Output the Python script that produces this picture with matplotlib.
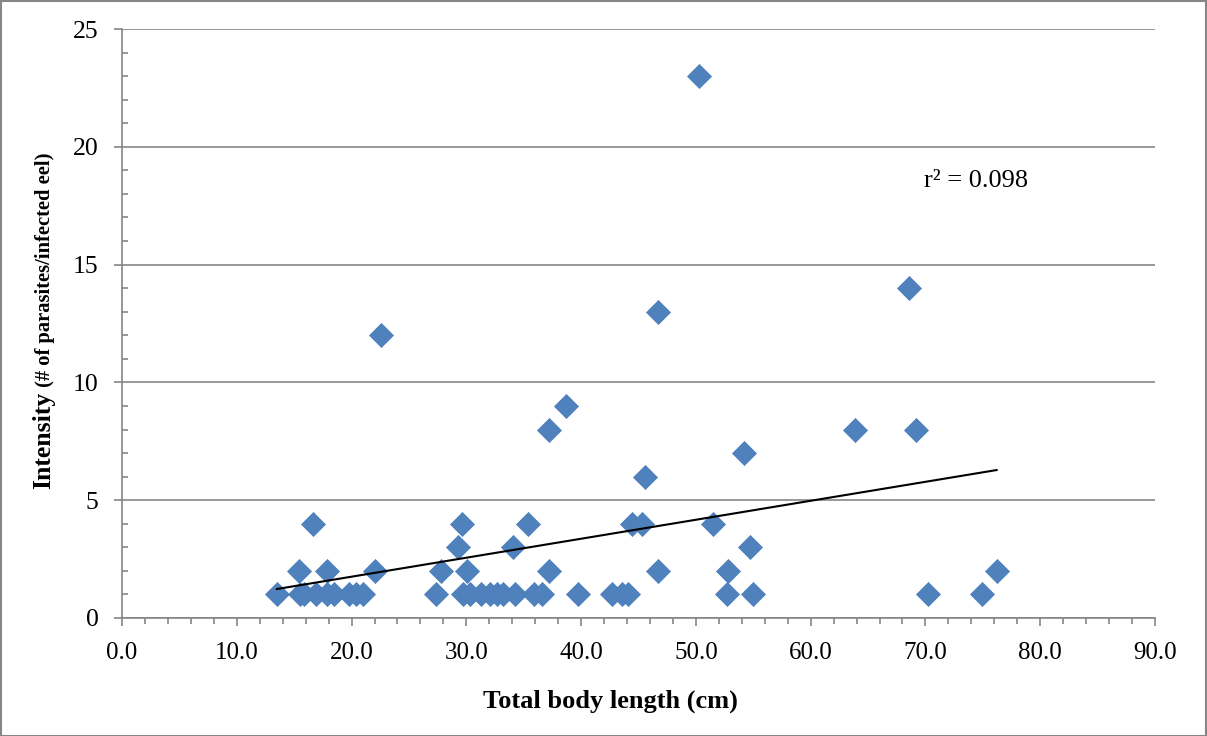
import matplotlib
matplotlib.use("Agg")
import matplotlib.pyplot as plt
import numpy as np
from matplotlib.ticker import MultipleLocator, FormatStrFormatter
from matplotlib.patches import Rectangle

# Data: (total body length cm, intensity)
x_int1 = [13.5, 15.5, 15.9, 16.9, 17.9, 18.5, 19.8, 20.4, 21.0, 27.4, 29.7, 30.3,
          31.3, 32.1, 32.7, 33.2, 34.2, 35.9, 36.6, 39.7, 42.7, 43.6, 44.1, 52.7,
          55.0, 70.2, 74.9]
x_int2 = [15.4, 17.9, 22.0, 27.8, 30.1, 37.2, 46.7, 52.8, 76.2]
x_int3 = [29.3, 34.1, 54.7]
x_int4 = [16.6, 29.6, 35.4, 44.4, 45.3, 51.5]
x_high = [45.6, 54.2, 37.2, 63.9, 69.2, 38.7, 22.6, 46.7, 68.6, 50.3]
y_high = [6, 7, 8, 8, 8, 9, 12, 13, 14, 23]

# Linear trend line (start / end)
trend_x = [13.5, 76.2]
trend_y = [1.23, 6.28]

x_vals = np.array(x_int1 + x_int2 + x_int3 + x_int4 + x_high, dtype=float)
y_vals = np.array([1] * len(x_int1) + [2] * len(x_int2) + [3] * len(x_int3)
                  + [4] * len(x_int4) + y_high, dtype=float)

r2_label = "r² = 0.098"
x_label = "Total body length (cm)"
y_label_main = "Intensity"
y_label_sub = " (# of parasites/infected eel)"

plt.rcParams['font.family'] = ['Liberation Serif', 'DejaVu Serif']

W, H = 1207, 736
fig = plt.figure(figsize=(W / 100, H / 100), dpi=100)
ax = fig.add_axes([122 / W, (H - 618) / H, (1155 - 122) / W, (618 - 29) / H])

grid_c = '#868686'
ax.set_xlim(0, 90)
ax.set_ylim(0, 25)
ax.yaxis.set_major_locator(MultipleLocator(5))
ax.yaxis.set_minor_locator(MultipleLocator(1))
ax.xaxis.set_major_locator(MultipleLocator(10))
ax.xaxis.set_minor_locator(MultipleLocator(2))
ax.xaxis.set_major_formatter(FormatStrFormatter('%.1f'))
ax.grid(axis='y', which='major', color=grid_c, linewidth=1.2, zorder=0)
ax.set_axisbelow(True)
for s in ['top', 'right']:
    ax.spines[s].set_visible(False)
for s in ['left', 'bottom']:
    ax.spines[s].set_color(grid_c)
    ax.spines[s].set_linewidth(1.2)
ax.tick_params(axis='y', which='major', length=6, width=1.2, color=grid_c,
               labelsize=18.5, pad=11, direction='out')
ax.tick_params(axis='y', which='minor', length=4, width=1.2, color=grid_c,
               direction='in')
ax.tick_params(axis='x', which='major', length=6, width=1.2, color=grid_c,
               labelsize=18, pad=11, direction='out')
ax.tick_params(axis='x', which='minor', length=4.5, width=1.2, color=grid_c,
               direction='out')

ax.scatter(x_vals, y_vals, marker='D', s=150, color='#4F81BD',
           edgecolor='#4A7EBB', linewidth=0.5, zorder=3, clip_on=False)

ax.plot(trend_x, trend_y, color='black', linewidth=1.5, zorder=4)

fig.text(976 / W, (H - 187) / H, r2_label, fontsize=19, ha='center',
         va='baseline')

fig.text(610 / W, (H - 708) / H, x_label, fontsize=19,
         fontweight='bold', ha='center', va='baseline')

# y label composed of two parts sharing one baseline
t1 = fig.text(50 / W, (H - 489) / H, y_label_main, fontsize=18.5, fontweight='bold',
              rotation=90, ha='left', va='baseline', rotation_mode='anchor')
fig.canvas.draw()
bb = t1.get_window_extent(renderer=fig.canvas.get_renderer())
fig.text(50 / W, (bb.y1) / H, y_label_sub, fontsize=14.8, fontweight='bold',
         rotation=90, ha='left', va='baseline', rotation_mode='anchor')

fig.patches.append(Rectangle((0.5 / W, 0.5 / H), 1 - 1.5 / W, 1 - 1.5 / H,
                             transform=fig.transFigure, fill=False,
                             edgecolor=grid_c, linewidth=1.5))

fig.savefig('out.png', dpi=100)
